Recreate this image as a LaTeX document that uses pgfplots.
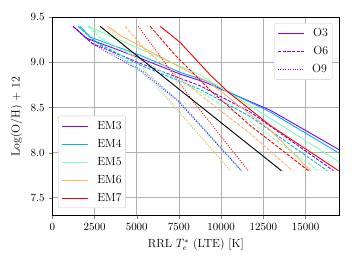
\documentclass[border=0pt]{standalone}
\usepackage{pgfplots}
\pgfplotsset{compat=1.18}
\definecolor{cEMthree}{HTML}{8000FF}
\definecolor{cEMfour}{HTML}{00B4EB}
\definecolor{cEMfive}{HTML}{80FFB4}
\definecolor{cEMsix}{HTML}{FFB462}
\definecolor{cEMseven}{HTML}{FF0000}
\definecolor{gridc}{HTML}{B0B0B0}
\definecolor{legc}{HTML}{CCCCCC}
\tikzset{
  oS/.style={solid, line width=0.9pt},
  oD/.style={line width=0.9pt, dash pattern=on 3.3pt off 1.5pt},
  oT/.style={line width=0.9pt, dash pattern=on 0.9pt off 1.5pt},
}
\newcommand{\lsolid}[1]{\textcolor{#1}{\rule[0.55ex]{26pt}{0.9pt}}}
\newcommand{\ldseg}{\rule[0.55ex]{3.3pt}{0.9pt}}
\newcommand{\ldash}[1]{\textcolor{#1}{\ldseg\hspace{1.3pt}\ldseg\hspace{1.3pt}\ldseg\hspace{1.3pt}\ldseg\hspace{1.3pt}\ldseg\hspace{1.3pt}\ldseg}}
\newcommand{\ltseg}{\rule[0.55ex]{0.9pt}{0.9pt}}
\newcommand{\ldot}[1]{\textcolor{#1}{\ltseg\hspace{1.5pt}\ltseg\hspace{1.5pt}\ltseg\hspace{1.5pt}\ltseg\hspace{1.5pt}\ltseg\hspace{1.5pt}\ltseg\hspace{1.5pt}\ltseg\hspace{1.5pt}\ltseg\hspace{1.5pt}\ltseg\hspace{1.5pt}\ltseg\hspace{1.5pt}\ltseg}}
\pgfplotsset{
  mylegend/.style={
    legend cell align=left,
    legend image code/.code={},
    legend style={draw=legc, fill=white, rounded corners=2pt,
      inner xsep=3pt, inner ysep=1pt,
      nodes={inner xsep=1pt, inner ysep=0pt, text height=12.5pt, text depth=5.5pt},
      /tikz/every even column/.append style={column sep=0pt},
      /tikz/every odd column/.append style={column sep=0pt}},
  },
  overlayaxis/.style={
    scale only axis, width=286.7pt, height=198.4pt,
    xmin=0, xmax=17000, ymin=7.3, ymax=9.5,
    axis lines=none, ticks=none, mylegend,
  }
}
\begin{document}
\fontsize{11.8}{13}\selectfont
\begin{tikzpicture}
\begin{axis}[
  scale only axis, width=286.7pt, height=198.4pt,
  xmin=0, xmax=17000, ymin=7.3, ymax=9.5,
  xtick={0,2500,5000,7500,10000,12500,15000},
  ytick={7.5,8.0,8.5,9.0,9.5},
  yticklabel style={/pgf/number format/.cd, fixed, fixed zerofill, precision=1},
  xticklabel style={/pgf/number format/.cd, 1000 sep={}},
  tick label style={font=\fontsize{10.8}{13}\selectfont},
  scaled x ticks=false,
  tick align=outside, tick pos=left,
  major tick length=3.5pt,
  grid=major, grid style={gridc, line width=0.8pt},
  axis line style={line width=0.8pt},
  xlabel={RRL $T_e^{*}$ (LTE) [K]},
  ylabel={Log(O/H) + 12},
  clip=true,
]
% EM3
\addplot[cEMthree, oS] coordinates {(1230,9.40) (2000,9.27) (5030,9.06) (7580,8.87) (9060,8.78) (12920,8.47) (17300,8.00)};
\addplot[cEMthree, oD] coordinates {(1230,9.40) (2360,9.21) (5200,8.99) (8770,8.74) (11730,8.45) (16660,7.80)};
\addplot[cEMthree, oT] coordinates {(1230,9.40) (2530,9.19) (5200,8.91) (7400,8.58) (11200,7.80)};
% EM4
\addplot[cEMfour, oS] coordinates {(1640,9.40) (2240,9.28) (5200,9.08) (7580,8.89) (9060,8.80) (12920,8.45) (17300,7.96)};
\addplot[cEMfour, oD] coordinates {(1525,9.40) (2530,9.23) (5200,8.97) (8770,8.70) (11730,8.40) (16300,7.80)};
\addplot[cEMfour, oT] coordinates {(1525,9.40) (2830,9.19) (5500,8.89) (7580,8.56) (11200,7.80)};
% EM5
\addplot[cEMfive, oS] coordinates {(2120,9.40) (5200,9.15) (8770,8.86) (12920,8.38) (17300,7.86)};
\addplot[cEMfive, oD] coordinates {(2120,9.40) (2830,9.27) (5800,8.97) (8770,8.67) (11730,8.34) (15770,7.80)};
\addplot[cEMfive, oT] coordinates {(2240,9.40) (3430,9.19) (5800,8.80) (10550,7.80)};
% EM6
\addplot[cEMsix, oS] coordinates {(3300,9.40) (4020,9.30) (9360,8.77) (12920,8.25) (15300,7.80)};
\addplot[cEMsix, oD] coordinates {(4315,9.40) (5500,9.14) (8770,8.64) (11730,8.21) (14230,7.80)};
\addplot[cEMsix, oT] coordinates {(3250,9.40) (4020,9.24) (6390,8.70) (10550,7.80)};
% EM7
\addplot[cEMseven, oS] coordinates {(6390,9.40) (7580,9.22) (9360,8.86) (10430,8.67) (12920,8.30) (16960,7.80)};
\addplot[cEMseven, oD] coordinates {(5800,9.40) (7280,9.08) (9360,8.69) (11730,8.30) (15180,7.80)};
\addplot[cEMseven, oT] coordinates {(5090,9.40) (8290,8.58) (11615,7.80)};
% reference line
\addplot[black, line width=0.9pt] coordinates {(2831,9.40) (13574,7.80)};
\end{axis}
\begin{axis}[overlayaxis, legend style={at={(0.976,0.971)}, anchor=north east}]
\addlegendimage{empty legend}\addlegendentry{\lsolid{cEMthree}\hspace{9pt}O3}
\addlegendimage{empty legend}\addlegendentry{\ldash{cEMthree}\hspace{9pt}O6}
\addlegendimage{empty legend}\addlegendentry{\ldot{cEMthree}\hspace{9pt}O9}
\end{axis}
\begin{axis}[overlayaxis, legend style={at={(0.02,0.039)}, anchor=south west}]
\addlegendimage{empty legend}\addlegendentry{\lsolid{cEMthree}\hspace{9pt}EM3}
\addlegendimage{empty legend}\addlegendentry{\lsolid{cEMfour}\hspace{9pt}EM4}
\addlegendimage{empty legend}\addlegendentry{\lsolid{cEMfive}\hspace{9pt}EM5}
\addlegendimage{empty legend}\addlegendentry{\lsolid{cEMsix}\hspace{9pt}EM6}
\addlegendimage{empty legend}\addlegendentry{\lsolid{cEMseven}\hspace{9pt}EM7}
\end{axis}
\path ([shift={(-52.3pt,-48.3pt)}]current axis.south west) rectangle ([shift={(12.7pt,17.3pt)}]current axis.north east);
\end{tikzpicture}
\end{document}
